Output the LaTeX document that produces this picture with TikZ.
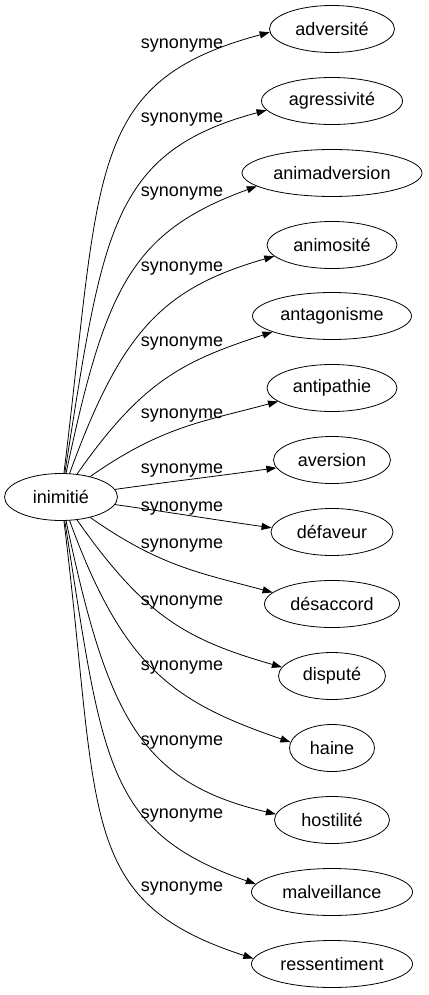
\documentclass[tikz,border=0pt]{standalone}
\usepackage{fontspec}
\setmainfont{Liberation Sans}
\usetikzlibrary{shapes.geometric,arrows.meta}

\tikzset{
  word/.style={draw, ellipse, inner sep=0pt, minimum height=47pt,
    font=\fontsize{18}{22}\selectfont},
  rel/.style={anchor=base, inner sep=0pt, font=\fontsize{18}{22}\selectfont},
  >={Triangle[length=10pt,width=7pt]}
}

\begin{document}
\begin{tikzpicture}[x=1pt,y=1pt,line width=0.8pt]
  \useasboundingbox (0,0) rectangle (428,-995);

  \node[word, minimum width=113pt] (inimitie) at (61,-497) {inimitié};

  % word / centre y / width / label baseline / out / in / anchor / looseness
  \foreach \word/\yy/\ew/\ly/\aout/\ain/\anc/\lo [count=\i] in {
    adversité/29/125/48.3/83/195/183/1.6,
    agressivité/101/141/122.7/81/195/188/1.5,
    animadversion/173/180/196.7/78/200/190/1.4,
    animosité/245/130/271.7/70/196/191/1.3,
    antagonisme/316/159/346.7/55/198/195/1.2,
    antipathie/388/130/418.3/35/195/194/1.1,
    aversion/460/117/473.3/8/188/188/1,
    défaveur/532/122/511.7/-8/172/176/1,
    désaccord/604/135/548.3/-35/165/169/1.1,
    disputé/676/107/605/-55/164/170/1.2,
    haine/748/85/670/-70/161/172/1.3,
    hostilité/820/115/745/-78/167/174/1.4,
    malveillance/892/161/818.3/-81/161/174/1.5,
    ressentiment/964/161/891.7/-83/162/176/1.6}
  {
    \node[word, minimum width=\ew pt] (t\i) at (332,-\yy) {\word};
    \node[rel] (s\i) at (182,-\ly) {synonyme};
    \draw[->] (inimitie) to[out=\aout, in=\ain, out looseness=\lo] (t\i.\anc);
  }
\end{tikzpicture}
\end{document}
